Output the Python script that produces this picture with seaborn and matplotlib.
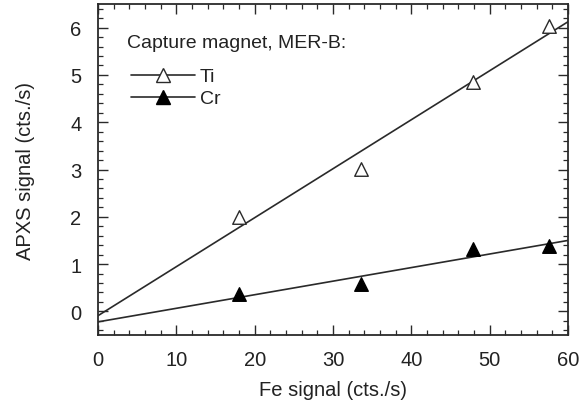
import numpy as np
import pandas as pd
import matplotlib
matplotlib.use("Agg")
import matplotlib.pyplot as plt
from matplotlib.lines import Line2D
from matplotlib.ticker import MultipleLocator
import seaborn as sns

fe_signal = [18.0, 33.6, 47.9, 57.6]
ti_signal = [2.0, 3.02, 4.86, 6.03]
cr_signal = [0.36, 0.57, 1.31, 1.38]
x_ticks = [0, 10, 20, 30, 40, 50, 60]
y_ticks = [0, 1, 2, 3, 4, 5, 6]

sns.set_theme(style="ticks")
plt.rcParams['font.family'] = ['Liberation Sans', 'DejaVu Sans']

fig = plt.figure(figsize=(5.88, 4.06), dpi=100)
ax = fig.add_axes([98/588, 1-336/406, (568-98)/588, (336-5)/406])

ink = "#2a2a2a"
txt = "#222222"
fs = 14.5
df = pd.DataFrame({"fe": fe_signal * 2,
                   "val": ti_signal + cr_signal,
                   "el": ["Ti"] * 4 + ["Cr"] * 4})

# fit lines
xs = np.array([0.0, 60.0])
for vals in (ti_signal, cr_signal):
    k, b = np.polyfit(fe_signal, vals, 1)
    sns.lineplot(x=xs, y=k * xs + b, ax=ax, color=ink, lw=1.2)

sns.scatterplot(data=df[df.el == "Ti"], x="fe", y="val", ax=ax, marker="^",
                s=95, facecolor="white", edgecolor=ink, linewidth=1.0, zorder=3)
sns.scatterplot(data=df[df.el == "Cr"], x="fe", y="val", ax=ax, marker="^",
                s=95, color="black", edgecolor="black", linewidth=1.0, zorder=3)

ax.set_xlim(0, 60)
ax.set_ylim(-0.5, 6.5)
ax.set_xticks(x_ticks)
ax.set_yticks(y_ticks)
ax.xaxis.set_minor_locator(MultipleLocator(2))
ax.yaxis.set_minor_locator(MultipleLocator(0.2))
ax.tick_params(which="both", direction="in", top=True, right=True, color=ink,
               labelsize=fs, labelcolor=txt)
ax.tick_params(axis="x", which="major", pad=11)
ax.tick_params(axis="y", which="major", pad=12)
ax.tick_params(which="major", length=7, width=1.0)
ax.tick_params(which="minor", length=3.5, width=0.9)
for s in ax.spines.values():
    s.set_color(ink)
    s.set_linewidth(1.3)
ax.set_xlabel("Fe signal (cts./s)", fontsize=fs, color=txt, labelpad=8)
ax.set_ylabel("APXS signal (cts./s)", fontsize=fs, color=txt, labelpad=25)

ax.text(0.062, 0.885, "Capture magnet, MER-B:", transform=ax.transAxes,
        fontsize=14, color=txt, ha="left", va="center")

handles = [
    Line2D([], [], color=ink, lw=1.2, marker="^", markersize=9.5,
           markerfacecolor="white", markeredgecolor=ink),
    Line2D([], [], color=ink, lw=1.2, marker="^", markersize=9.5,
           markerfacecolor="black", markeredgecolor="black"),
]
leg = ax.legend(handles, ["Ti", "Cr"],
                loc="upper left", bbox_to_anchor=(0.07, 0.807), frameon=False,
                fontsize=14, handlelength=3.3,
                handletextpad=0.25, labelspacing=0.22, borderpad=0.0,
                borderaxespad=0.0)
for t in leg.get_texts():
    t.set_color(txt)

fig.savefig("out.png", dpi=100)
